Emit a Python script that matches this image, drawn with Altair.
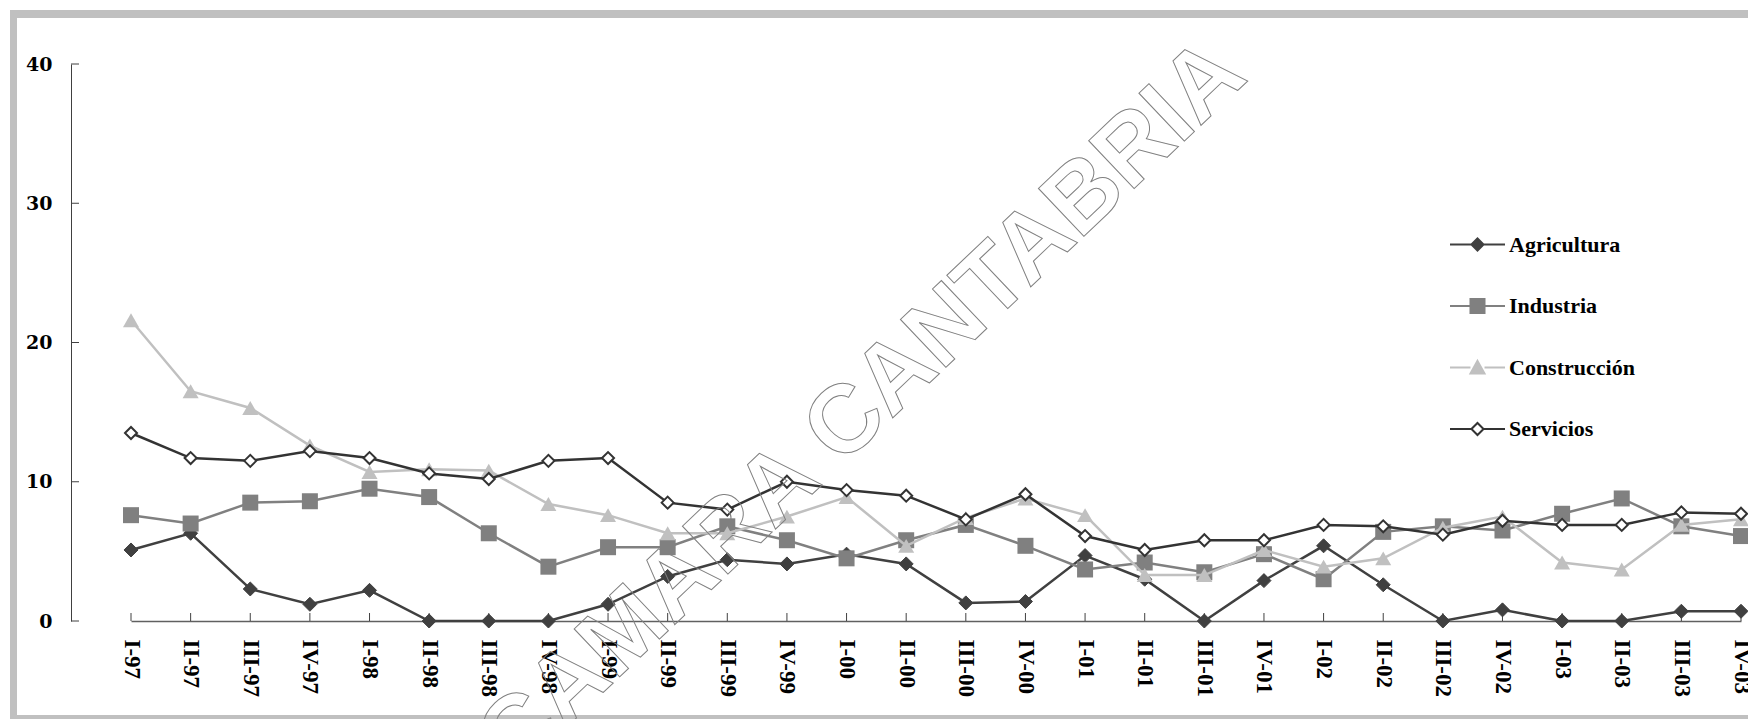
import altair as alt
import pandas as pd

QUARTERS = ["I-97", "II-97", "III-97", "IV-97", "I-98", "II-98", "III-98", "IV-98",
            "I-99", "II-99", "III-99", "IV-99", "I-00", "II-00", "III-00", "IV-00",
            "I-01", "II-01", "III-01", "IV-01", "I-02", "II-02", "III-02", "IV-02",
            "I-03", "II-03", "III-03", "IV-03"]

SERIES = ["Agricultura", "Industria", "Construcción", "Servicios"]

AGRICULTURA = [5.1, 6.3, 2.3, 1.2, 2.2, 0.0, 0.0, 0.0, 1.2, 3.2, 4.4, 4.1, 4.8, 4.1,
               1.3, 1.4, 4.7, 3.0, 0.0, 2.9, 5.4, 2.6, 0.0, 0.8, 0.0, 0.0, 0.7, 0.7]
INDUSTRIA = [7.6, 7.0, 8.5, 8.6, 9.5, 8.9, 6.3, 3.9, 5.3, 5.3, 6.8, 5.8, 4.5, 5.8,
             6.9, 5.4, 3.7, 4.2, 3.5, 4.8, 3.0, 6.4, 6.8, 6.5, 7.7, 8.8, 6.8, 6.1]
CONSTRUCCION = [21.6, 16.5, 15.3, 12.6, 10.7, 10.9, 10.8, 8.4, 7.6, 6.3, 6.3, 7.5, 8.9, 5.4,
                7.4, 8.8, 7.6, 3.3, 3.3, 5.1, 3.9, 4.5, 6.7, 7.5, 4.2, 3.7, 6.9, 7.3]
SERVICIOS = [13.5, 11.7, 11.5, 12.2, 11.7, 10.6, 10.2, 11.5, 11.7, 8.5, 8.0, 10.0, 9.4, 9.0,
             7.3, 9.1, 6.1, 5.1, 5.8, 5.8, 6.9, 6.8, 6.2, 7.2, 6.9, 6.9, 7.8, 7.7]

Y_TICKS = [0, 10, 20, 30, 40]
WATERMARK = ["CAMARA CANTABRIA"]

VALUES = [AGRICULTURA, INDUSTRIA, CONSTRUCCION, SERVICIOS]

LINE_COLORS = ["#404040", "#808080", "#c0c0c0", "#333333"]
MARKERS = [
    dict(shape="diamond", size=196, fill="#404040", stroke="#404040", strokeWidth=1),
    dict(shape="square", size=256, fill="#808080", stroke="#808080", strokeWidth=0),
    dict(shape="triangle-up", size=256, fill="#c0c0c0", stroke="#c0c0c0", strokeWidth=0),
    dict(shape="diamond", size=144, fill="white", stroke="#333333", strokeWidth=2),
]
LEGEND_PATHS = [
    "M-1,0H-0.22M0.22,0H1M-0.22,0L0,-0.22L0.22,0L0,0.22Z",
    "M-1,0H-0.255M0.255,0H1M-0.255,-0.255H0.255V0.255H-0.255Z",
    "M-1,0H-0.255M0.255,0H1M0,-0.24L0.255,0.22L-0.255,0.22Z",
    "M-1,0H-0.22M0.22,0H1M-0.22,0L0,-0.22L0.22,0L0,0.22Z",
]
LEGEND_FILLS = ["#404040", "#808080", "#c0c0c0", "white"]

rows = []
for s, vals in zip(SERIES, VALUES):
    for q, v in zip(QUARTERS, vals):
        rows.append({"q": q, "s": s, "v": v})
df = pd.DataFrame(rows)

W, H = 1677, 557
LABEL_FONT = "Liberation Serif"

xscale = alt.Scale(type="point", range=[60, 1670], padding=0)
yscale = alt.Scale(domain=[0, 40], nice=False, zero=True)

xaxis = alt.Axis(values=QUARTERS, labelAngle=90, labelPadding=18, ticks=False, tickSize=0,
                 grid=False, domainColor="#606060", domainWidth=1.5,
                 labelFont=LABEL_FONT, labelFontSize=23, labelFontWeight="bold",
                 labelColor="black", labelOverlap=False, title=None)
yaxis = alt.Axis(values=Y_TICKS, labelPadding=19, ticks=False, tickSize=0, grid=False,
                 domainColor="#404040", domainWidth=1,
                 labelFont="DejaVu Serif", labelFontSize=19, labelFontWeight="bold",
                 labelColor="black", title=None)

X = alt.X("q:N", sort=QUARTERS, scale=xscale, axis=xaxis, title=None)
Y = alt.Y("v:Q", scale=yscale, axis=yaxis, title=None)

layers = []

# frame
frame_df = pd.DataFrame({"k": [0]})
layers.append(alt.Chart(frame_df).mark_rule(color="#c0c0c0", strokeWidth=8).encode(
    x=alt.value(-61), x2=alt.value(1690), y=alt.value(-50)))
layers.append(alt.Chart(frame_df).mark_rule(color="#c0c0c0", strokeWidth=7).encode(
    x=alt.value(-57.5), y=alt.value(-54), y2=alt.value(660)))
layers.append(alt.Chart(frame_df).mark_rule(color="#c0c0c0", strokeWidth=4).encode(
    x=alt.value(-61), x2=alt.value(1690), y=alt.value(653)))

# inward ticks
ytick_df = pd.DataFrame({"v": Y_TICKS})
layers.append(alt.Chart(ytick_df).mark_rule(color="#404040", strokeWidth=1).encode(
    y=Y, x=alt.value(0), x2=alt.value(8)))
xtick_df = pd.DataFrame({"q": QUARTERS})
layers.append(alt.Chart(xtick_df).mark_rule(color="#404040", strokeWidth=1).encode(
    x=X, y=alt.value(H - 8), y2=alt.value(H)))

# series
for s, col, mk in zip(SERIES, LINE_COLORS, MARKERS):
    sub = df[df["s"] == s]
    layers.append(alt.Chart(sub).mark_line(color=col, strokeWidth=2.5).encode(x=X, y=Y))
    layers.append(alt.Chart(sub).mark_point(filled=True, opacity=1, **mk).encode(x=X, y=Y))

# legend (invisible points carrying the legend)
leg = alt.Legend(orient="none", legendX=1378, legendY=152, title=None,
                 symbolSize=3025, symbolStrokeWidth=2, symbolOpacity=1,
                 labelFont=LABEL_FONT, labelFontSize=22, labelFontWeight="bold",
                 labelColor="black", labelOffset=3, rowPadding=21.5, padding=0,
                 labelLimit=400)
layers.append(alt.Chart(df).mark_point(opacity=0, filled=True).encode(
    x=X, y=Y,
    shape=alt.Shape("s:N", scale=alt.Scale(domain=SERIES, range=LEGEND_PATHS), legend=leg),
    fill=alt.Fill("s:N", scale=alt.Scale(domain=SERIES, range=LEGEND_FILLS), legend=leg),
    stroke=alt.Stroke("s:N", scale=alt.Scale(domain=SERIES, range=LINE_COLORS), legend=leg),
))

# watermark
wm_df = pd.DataFrame({"t": WATERMARK})
layers.append(alt.Chart(wm_df).mark_text(
    angle=316.5, fontSize=96, font="Liberation Sans", fontWeight="bold",
    align="center", baseline="middle",
    fill="white", fillOpacity=0, stroke="#808080", strokeWidth=1).encode(
    x=alt.value(791), y=alt.value(343), text="t:N"))

chart = alt.layer(*layers).properties(
    width=W, height=H,
    padding={"left": 63, "top": 56, "right": 0, "bottom": 98},
    autosize=alt.AutoSizeParams(type="none"),
).configure(background="white").configure_view(strokeWidth=0)

chart.save("out.html", embed_options={"renderer": "svg", "actions": False})
